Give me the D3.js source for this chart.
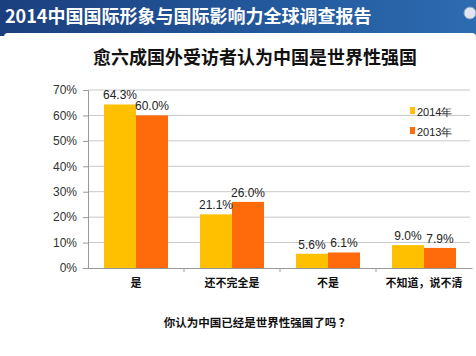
<!DOCTYPE html>
<html><head><meta charset="utf-8">
<script src="https://cdn.jsdelivr.net/npm/d3@7/dist/d3.min.js"></script>
<style>body{margin:0;background:#fff;}svg{display:block;}</style>
</head><body>
<script>
const categories = ["是", "还不完全是", "不是", "不知道，说不清"];
const series = ["2014年", "2013年"];
const values2014 = [64.3, 21.1, 5.6, 9.0];
const values2013 = [60.0, 26.0, 6.1, 7.9];
const yTicks = [0, 10, 20, 30, 40, 50, 60, 70];
const colors = ["#FFC000", "#FF6A0A"];

const W = 476, H = 356;
const svg = d3.select("body").append("svg").attr("width", W).attr("height", H);
const font = "'Noto Sans CJK SC', Arial, sans-serif";

// header band
const defs = svg.append("defs");
const g1 = defs.append("linearGradient").attr("id", "hdr").attr("x1", 0).attr("x2", 1);
g1.append("stop").attr("offset", 0).attr("stop-color", "#1b3f7e");
g1.append("stop").attr("offset", 0.6).attr("stop-color", "#245a9e");
g1.append("stop").attr("offset", 1).attr("stop-color", "#2d6bb0");
svg.append("rect").attr("x", 0).attr("y", 0).attr("width", W).attr("height", 36).attr("fill", "url(#hdr)");
svg.append("rect").attr("x", 4).attr("y", 33).attr("width", W - 4).attr("height", H - 33).attr("rx", 4).attr("fill", "#fff");
svg.append("text").attr("x", 5).attr("y", 23).attr("fill", "#fff")
  .attr("font-family", font).attr("font-weight", "bold").attr("font-size", 18)
  .text("2014中国国际形象与国际影响力全球调查报告");
svg.append("circle").attr("cx", 470).attr("cy", 13).attr("r", 6).attr("fill", "#dfe6f0").attr("stroke", "#8aa0c0");

// chart title
svg.append("text").attr("x", 255).attr("y", 64).attr("text-anchor", "middle")
  .attr("font-family", font).attr("font-weight", "bold").attr("font-size", 18).attr("fill", "#111")
  .text("愈六成国外受访者认为中国是世界性强国");

const x0 = 88, x1 = 472, yTop = 90, yBot = 268;
const x = d3.scaleBand().domain(categories).range([x0, x1]).paddingInner(0).paddingOuter(0);
const xs = d3.scaleBand().domain(series).range([0, x.bandwidth()]).paddingOuter(0.5).paddingInner(0);
const y = d3.scaleLinear().domain([0, 70]).range([yBot, yTop]);

// gridlines
svg.append("g").selectAll("line").data(yTicks.filter(d => d > 0)).join("line")
  .attr("x1", x0).attr("x2", 470).attr("y1", d => y(d)).attr("y2", d => y(d))
  .attr("stroke", "#c8c8c8").attr("stroke-width", 1);

// y axis
const yAxis = svg.append("g").attr("transform", `translate(${x0},0)`)
  .call(d3.axisLeft(y).tickValues(yTicks).tickFormat(d => d + "%").tickSize(5).tickPadding(6));
yAxis.select(".domain").attr("stroke", "#999");
yAxis.selectAll(".tick line").attr("stroke", "#999");
yAxis.selectAll("text").attr("font-family", "Arial, 'Liberation Sans', sans-serif").attr("font-size", 12).attr("fill", "#333");

// x axis
const xAxis = svg.append("g").attr("transform", `translate(0,${yBot})`)
  .call(d3.axisBottom(x).tickSize(0).tickPadding(11));
xAxis.select(".domain").attr("stroke", "#999");
xAxis.selectAll("text").attr("font-family", font).attr("font-weight", "bold").attr("font-size", 11).attr("fill", "#111");
svg.append("g").selectAll("line").data(categories.slice(1)).join("line")
  .attr("x1", d => x(d)).attr("x2", d => x(d)).attr("y1", yBot).attr("y2", yBot + 4)
  .attr("stroke", "#999");

const data = categories.map((c, i) => ({c, vals: [values2014[i], values2013[i]]}));
const grp = svg.append("g").selectAll("g").data(data).join("g")
  .attr("transform", d => `translate(${x(d.c)},0)`);
grp.selectAll("rect").data(d => d.vals.map((v, j) => ({v, s: series[j], j}))).join("rect")
  .attr("x", d => xs(d.s)).attr("width", xs.bandwidth())
  .attr("y", d => y(d.v)).attr("height", d => yBot - y(d.v))
  .attr("fill", d => colors[d.j]);
grp.selectAll("text").data(d => d.vals.map((v, j) => ({v, s: series[j], j}))).join("text")
  .attr("x", d => xs(d.s) + xs.bandwidth() / 2).attr("y", d => y(d.v) - 5)
  .attr("text-anchor", "middle").attr("font-family", "Arial, 'Liberation Sans', sans-serif")
  .attr("font-size", 12).attr("fill", "#222")
  .text(d => d.v.toFixed(1) + "%");

// legend
const lg = svg.append("g").selectAll("g").data(series).join("g")
  .attr("transform", (d, i) => `translate(410,${111 + i * 20})`);
lg.append("rect").attr("x", 0).attr("y", -4).attr("width", 5).attr("height", 7).attr("fill", (d, i) => colors[i]);
lg.append("text").attr("x", 7).attr("y", 5).attr("font-family", "Arial, 'Liberation Sans', sans-serif")
  .attr("font-size", 11).attr("fill", "#222").text(d => d);

// bottom question
svg.append("text").attr("x", 257).attr("y", 327).attr("text-anchor", "middle")
  .attr("font-family", font).attr("font-weight", "bold").attr("font-size", 11.5).attr("fill", "#111")
  .text("你认为中国已经是世界性强国了吗 ？");
</script>
</body></html>
